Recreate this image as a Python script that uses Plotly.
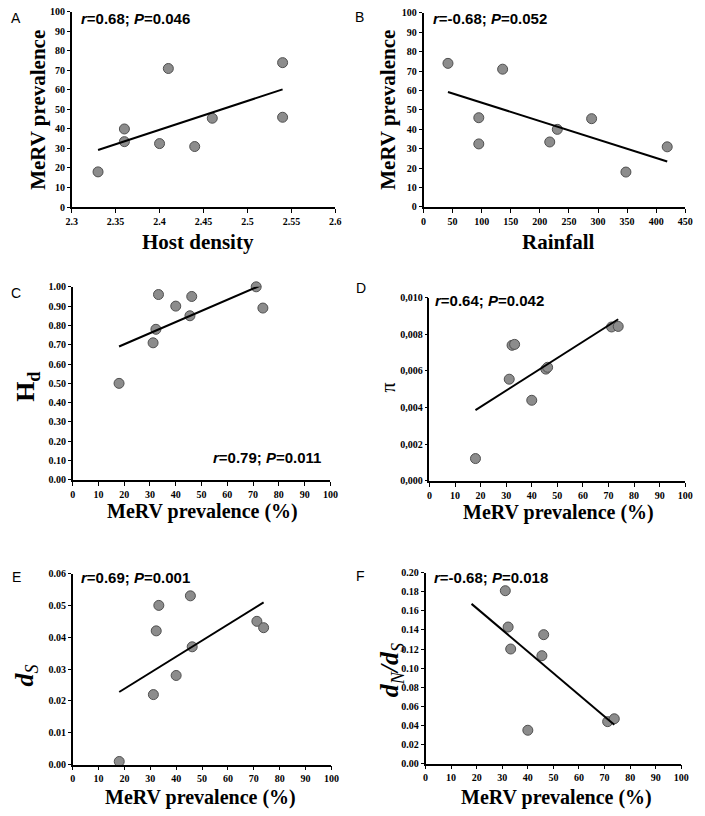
import numpy as np
import plotly.graph_objects as go

# ---------------- data ----------------
host_density = [2.33, 2.36, 2.36, 2.40, 2.41, 2.44, 2.46, 2.54, 2.54]
prev_a = [18, 33.5, 40, 32.5, 71, 31, 45.5, 74, 46]

rainfall = [42, 95, 95, 136, 217, 230, 289, 348, 419]
prev_b = [74, 46, 32.5, 71, 33.5, 40, 45.5, 18, 31]

prevalence = [18, 31.2, 32.3, 33.3, 40, 45.5, 46.2, 71.2, 73.8]
hd = [0.50, 0.71, 0.78, 0.96, 0.90, 0.85, 0.95, 1.00, 0.89]
pi_vals = [0.00122, 0.00555, 0.0074, 0.00745, 0.0044, 0.0061, 0.0062, 0.0084, 0.00843]
ds = [0.001, 0.022, 0.042, 0.050, 0.028, 0.053, 0.037, 0.045, 0.043]
dnds = [None, 0.181, 0.143, 0.120, 0.035, 0.113, 0.135, 0.044, 0.047]

stats_text = ["<b><i>r</i>=0.68; <i>P</i>=0.046</b>",
              "<b><i>r</i>=-0.68; <i>P</i>=0.052</b>",
              "<b><i>r</i>=0.79; <i>P</i>=0.011</b>",
              "<b><i>r</i>=0.64; <i>P</i>=0.042</b>",
              "<b><i>r</i>=0.69; <i>P</i>=0.001</b>",
              "<b><i>r</i>=-0.68; <i>P</i>=0.018</b>"]
panel_letters = ["A", "B", "C", "D", "E", "F"]
pi_tickvals = [0, 0.002, 0.004, 0.006, 0.008, 0.010]
pi_ticktext = ["0,000", "0,002", "0,004", "0,006", "0,008", "0,010"]

W, H = 705, 816

def px_x(v):
    return v / W

def px_y(v):
    return 1 - v / H

panels = [
    dict(x=host_density, y=prev_a, line_x=host_density,
         dom=(67, 336, 6, 204), xr=[2.3, 2.6], xd=0.05, yr=[0, 100], yd=10, yfmt="d",
         ytitle="<b>MeRV prevalence</b>", ytsize=21, ytpos=(33, 105),
         xtitle="<b>Host density</b>", xtpos=(196, 240), xtsize=21,
         stat_pos=(74, 13), stat_anchor="left", letter_pos=(3, 12)),
    dict(x=rainfall, y=prev_b, line_x=rainfall,
         dom=(426, 693, 7, 204), xr=[0, 450], xd=50, yr=[0, 100], yd=10, yfmt="d",
         ytitle="<b>MeRV prevalence</b>", ytsize=21, ytpos=(390, 105),
         xtitle="<b>Rainfall</b>", xtpos=(564, 240), xtsize=21,
         stat_pos=(434, 13), stat_anchor="left", letter_pos=(354, 11)),
    dict(x=prevalence, y=hd, line_x=prevalence,
         dom=(68, 331, 285, 481), xr=[0, 100], xd=10, yr=[0, 1.0], yd=0.1, yfmt=".2f",
         ytitle="<b>H<sub>d</sub></b>", ytsize=26, ytpos=(22, 387),
         xtitle="<b>MeRV prevalence (%)</b>", xtpos=(200, 513), xtsize=20,
         stat_pos=(323, 458), stat_anchor="right", letter_pos=(3, 291)),
    dict(x=prevalence, y=pi_vals, line_x=prevalence,
         dom=(432, 693, 296, 482), xr=[0, 100], xd=10, yr=[0, 0.010], yd=None, yfmt=None,
         ytitle="π", ytsize=20, ytpos=(390, 387),
         xtitle="<b>MeRV prevalence (%)</b>", xtpos=(564, 514), xtsize=20,
         stat_pos=(436, 299), stat_anchor="left", letter_pos=(355, 286)),
    dict(x=prevalence, y=ds, line_x=prevalence,
         dom=(68, 332, 576, 770), xr=[0, 100], xd=10, yr=[0, 0.06], yd=0.01, yfmt=".2f",
         ytitle="<b><i>d</i></b><sub><i>S</i></sub>", ytsize=26, ytpos=(20, 680),
         xtitle="<b>MeRV prevalence (%)</b>", xtpos=(198, 803), xtsize=20,
         stat_pos=(74, 580), stat_anchor="left", letter_pos=(4, 580)),
    dict(x=prevalence, y=dnds, line_x=prevalence,
         dom=(428, 689, 575, 769), xr=[0, 100], xd=10, yr=[0, 0.20], yd=0.02, yfmt=".2f",
         ytitle="<b><i>d</i></b><sub><i>N</i></sub><b><i>/d</i></b><sub><i>S</i></sub>", ytsize=26, ytpos=(393, 674),
         xtitle="<b>MeRV prevalence (%)</b>", xtpos=(562, 803), xtsize=20,
         stat_pos=(435, 580), stat_anchor="left", letter_pos=(355, 579)),
]

fig = go.Figure()
annotations = []
layout_axes = {}
serif = "Liberation Serif"
sans = "Liberation Sans"

for i, p in enumerate(panels):
    n = i + 1
    xa = "x" if n == 1 else f"x{n}"
    ya = "y" if n == 1 else f"y{n}"
    xs = np.array([a for a, b in zip(p["x"], p["y"]) if b is not None], dtype=float)
    ys = np.array([b for b in p["y"] if b is not None], dtype=float)
    # scatter points
    fig.add_trace(go.Scatter(x=xs, y=ys, mode="markers", xaxis=xa, yaxis=ya,
                             marker=dict(size=10, color="#8c8c8c",
                                         line=dict(color="#505050", width=1)),
                             showlegend=False, cliponaxis=False))
    # linear trend line (least squares)
    slope, icpt = np.polyfit(xs, ys, 1)
    lx = np.array([min(p["line_x"]), max(p["line_x"])], dtype=float)
    fig.add_trace(go.Scatter(x=lx, y=slope * lx + icpt, mode="lines", xaxis=xa, yaxis=ya,
                             line=dict(color="black", width=2), showlegend=False,
                             hoverinfo="skip"))
    x0, x1, y0, y1 = p["dom"]
    xkey = "xaxis" if n == 1 else f"xaxis{n}"
    ykey = "yaxis" if n == 1 else f"yaxis{n}"
    layout_axes[xkey] = dict(domain=[px_x(x0), px_x(x1)], range=p["xr"], dtick=p["xd"],
                             tick0=p["xr"][0], anchor=ya, showgrid=False, zeroline=False,
                             showline=True, linecolor="black", linewidth=1.5,
                             ticks="outside", ticklen=4, tickcolor="black", tickwidth=1.2,
                             tickfont=dict(family=serif, size=10, color="black", weight="bold"))
    yax = dict(domain=[px_y(y1), px_y(y0)], range=p["yr"], anchor=xa, showgrid=False,
               zeroline=False, showline=True, linecolor="black", linewidth=1.5,
               ticks="outside", ticklen=3, tickcolor="black", tickwidth=1.2,
               tickfont=dict(family=serif, size=10, color="black", weight="bold"))
    if p["yd"] is not None:
        yax.update(dtick=p["yd"], tick0=0, tickformat=p["yfmt"])
    else:
        yax.update(tickmode="array", tickvals=pi_tickvals, ticktext=pi_ticktext)
    layout_axes[ykey] = yax

    # titles
    annotations.append(dict(text=p["ytitle"], x=px_x(p["ytpos"][0]), y=px_y(p["ytpos"][1]),
                            xref="paper", yref="paper", showarrow=False, textangle=-90,
                            xanchor="center", yanchor="middle",
                            font=dict(family=serif, size=p["ytsize"], color="black")))
    annotations.append(dict(text=p["xtitle"], x=px_x(p["xtpos"][0]), y=px_y(p["xtpos"][1]),
                            xref="paper", yref="paper", showarrow=False,
                            xanchor="center", yanchor="middle",
                            font=dict(family=serif, size=p["xtsize"], color="black")))
    annotations.append(dict(text=stats_text[i], x=px_x(p["stat_pos"][0]), y=px_y(p["stat_pos"][1]),
                            xref="paper", yref="paper", showarrow=False,
                            xanchor=p["stat_anchor"], yanchor="middle",
                            font=dict(family=sans, size=15, color="black")))
    annotations.append(dict(text=panel_letters[i], x=px_x(p["letter_pos"][0]), y=px_y(p["letter_pos"][1]),
                            xref="paper", yref="paper", showarrow=False,
                            xanchor="left", yanchor="middle",
                            font=dict(family=sans, size=14, color="black")))

fig.update_layout(width=W, height=H, margin=dict(l=0, r=0, t=0, b=0),
                  paper_bgcolor="white", plot_bgcolor="white",
                  annotations=annotations, **layout_axes)

fig.write_html("out.html", config={"displayModeBar": False},
               post_script="document.body.style.margin='0';document.body.style.overflow='hidden';")
